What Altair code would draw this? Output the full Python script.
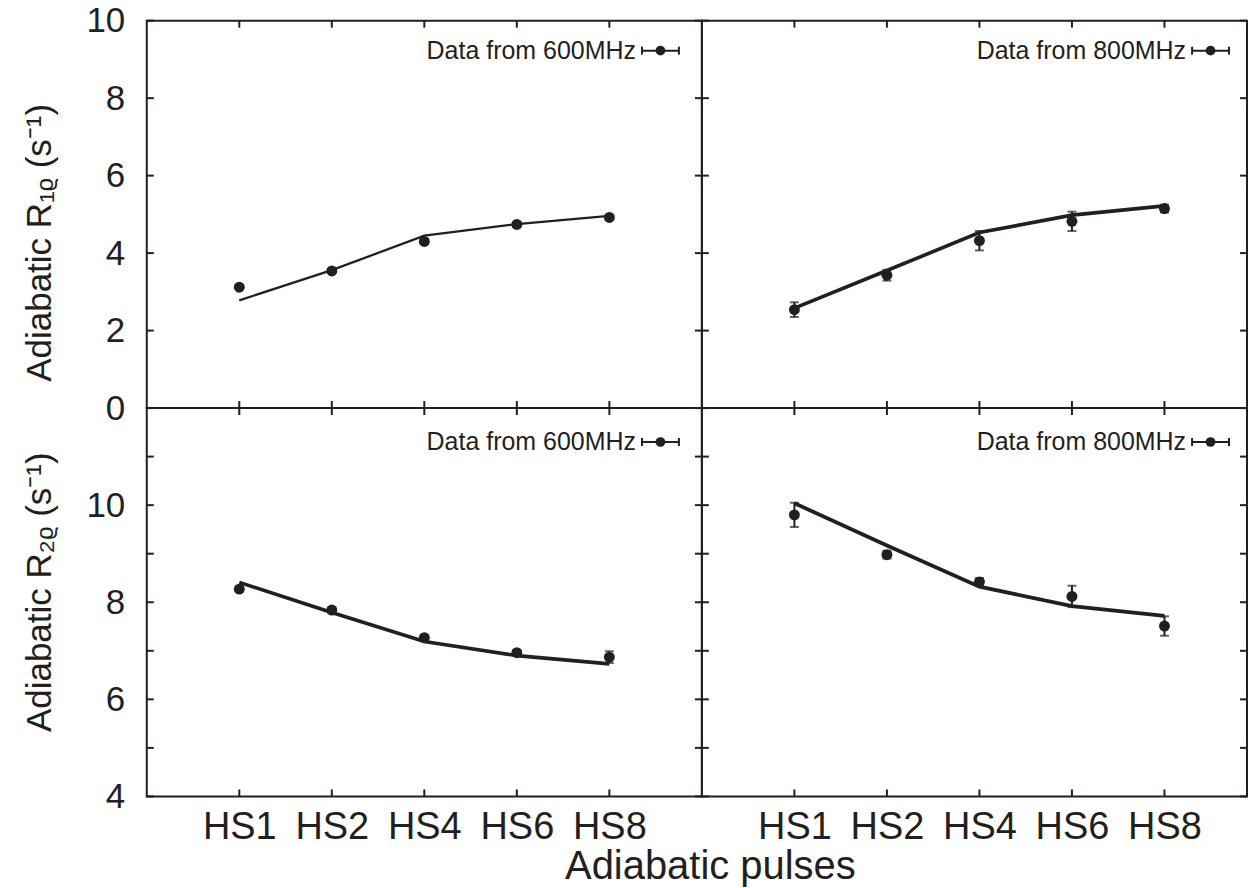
import altair as alt
import pandas as pd

# ---------------- data ----------------
pulses = ["HS1", "HS2", "HS4", "HS6", "HS8"]
positions = [1, 2, 3, 4, 5]

r1_600_pts = [3.12, 3.54, 4.30, 4.74, 4.92]
r1_600_err = [0.05, 0.05, 0.06, 0.05, 0.05]
r1_600_fit = [2.78, 3.56, 4.45, 4.75, 4.96]

r1_800_pts = [2.54, 3.43, 4.32, 4.82, 5.15]
r1_800_err = [0.19, 0.14, 0.25, 0.25, 0.10]
r1_800_fit = [2.58, 3.55, 4.53, 4.98, 5.22]

r2_600_pts = [8.27, 7.84, 7.27, 6.96, 6.87]
r2_600_err = [0.05, 0.05, 0.05, 0.05, 0.12]
r2_600_fit = [8.41, 7.79, 7.19, 6.90, 6.73]

r2_800_pts = [9.80, 8.98, 8.42, 8.12, 7.51]
r2_800_err = [0.25, 0.08, 0.08, 0.22, 0.20]
r2_800_fit = [10.04, 9.17, 8.32, 7.92, 7.72]

legend_labels = ["Data from 600MHz", "Data from 800MHz"]
top_ticks = [0, 2, 4, 6, 8, 10]
bottom_ticks = [4, 5, 6, 7, 8, 9, 10, 11, 12]
top_labels = [0, 2, 4, 6, 8, 10]
bottom_labels = [4, 6, 8, 10]

y1_title = "Adiabatic R\u2081\u1d68 (s\u207b\u00b9)"
y2_title = "Adiabatic R\u2082\u1d68 (s\u207b\u00b9)"
x_title = "Adiabatic pulses"

INK = "#231f20"
FONT = "Liberation Sans"

LW, RW = 556, 546
TH, BH = 388, 389
TICK = 7

label_expr = "[" + ",".join("'%s'" % p for p in pulses) + "][datum.value - 1]"


def panel(pts, err, fit, ydom, yticks, ylabels, W, H, xmax, legend_text,
          show_y, ytitle, title_y, show_x, xtitle, leg_x, leg_y, line_w):
    df = pd.DataFrame({
        "pos": positions,
        "pulse": pulses,
        "val": pts,
        "lo": [v - e for v, e in zip(pts, err)],
        "hi": [v + e for v, e in zip(pts, err)],
        "fit": fit,
    })
    xscale = alt.Scale(domain=[0, xmax], nice=False, zero=False)
    yscale = alt.Scale(domain=ydom, nice=False, zero=False)

    if show_x:
        xaxis = alt.Axis(values=positions, labelExpr=label_expr, ticks=False, tickSize=0,
                         domain=False, grid=False, labelFontSize=38, labelPadding=12,
                         labelFont=FONT, labelColor=INK, title=xtitle,
                         titleFontSize=40, titleFont=FONT, titleColor=INK,
                         titleFontWeight="normal", titlePadding=0,
                         titleX=(711 - 147) if xtitle else 0)
    else:
        xaxis = None
    if show_y:
        yaxis = alt.Axis(values=ylabels, ticks=False, tickSize=0, domain=False, grid=False,
                         labelFontSize=35, labelPadding=22, labelFont=FONT, labelColor=INK,
                         title=ytitle, titleFontSize=35, titleFont=FONT, titleColor=INK,
                         titleFontWeight="normal", titlePadding=28, titleY=title_y)
    else:
        yaxis = None

    def X(field):
        return alt.X(field, type="quantitative", scale=xscale, axis=xaxis, title=xtitle if show_x else "")

    def Y(field):
        return alt.Y(field, type="quantitative", scale=yscale, axis=yaxis, title=ytitle if show_y else "")

    base = alt.Chart(df)
    line = base.mark_line(color=INK, strokeWidth=line_w).encode(x=X("pos"), y=Y("fit"))
    bars = base.mark_rule(color=INK, strokeWidth=2).encode(x=X("pos"), y=Y("lo"), y2="hi")
    cap_lo = base.mark_tick(color=INK, orient="horizontal", size=9, thickness=2).encode(x=X("pos"), y=Y("lo"))
    cap_hi = base.mark_tick(color=INK, orient="horizontal", size=9, thickness=2).encode(x=X("pos"), y=Y("hi"))
    pts_l = base.mark_point(filled=True, color=INK, opacity=1, size=120).encode(x=X("pos"), y=Y("val"))

    xt = alt.Chart(pd.DataFrame({"pos": positions}))
    xt_bot = xt.mark_rule(color=INK, strokeWidth=2).encode(x=X("pos"), y=alt.value(H - TICK), y2=alt.value(H))
    xt_top = xt.mark_rule(color=INK, strokeWidth=2).encode(x=X("pos"), y=alt.value(0), y2=alt.value(TICK))
    yt = alt.Chart(pd.DataFrame({"val": yticks}))
    yt_l = yt.mark_rule(color=INK, strokeWidth=2).encode(y=Y("val"), x=alt.value(0), x2=alt.value(TICK))
    yt_r = yt.mark_rule(color=INK, strokeWidth=2).encode(y=Y("val"), x=alt.value(W - TICK), x2=alt.value(W))

    lg = alt.Chart(pd.DataFrame({"t": [legend_text]}))
    lg_text = lg.mark_text(align="right", baseline="middle", fontSize=25, font=FONT, color=INK).encode(
        text="t:N", x=alt.value(leg_x), y=alt.value(leg_y))
    lg_rule = lg.mark_rule(color=INK, strokeWidth=2).encode(
        x=alt.value(leg_x + 6), x2=alt.value(leg_x + 43), y=alt.value(leg_y))
    lg_c1 = lg.mark_rule(color=INK, strokeWidth=2).encode(
        x=alt.value(leg_x + 6), y=alt.value(leg_y - 4), y2=alt.value(leg_y + 4))
    lg_c2 = lg.mark_rule(color=INK, strokeWidth=2).encode(
        x=alt.value(leg_x + 43), y=alt.value(leg_y - 4), y2=alt.value(leg_y + 4))
    lg_pt = lg.mark_point(filled=True, color=INK, opacity=1, size=95).encode(
        x=alt.value(leg_x + 24.5), y=alt.value(leg_y))

    return alt.layer(line, bars, cap_lo, cap_hi, pts_l, xt_bot, xt_top, yt_l, yt_r,
                     lg_text, lg_rule, lg_c1, lg_c2, lg_pt).properties(width=W, height=H)


xmax_r = 6 * RW / LW

tl = panel(r1_600_pts, r1_600_err, r1_600_fit, [0, 10], top_ticks, top_labels, LW, TH, 6,
           legend_labels[0], True, y1_title, 222, False, "", 490, 30, 2.3)
tr = panel(r1_800_pts, r1_800_err, r1_800_fit, [0, 10], top_ticks, top_labels, RW, TH, xmax_r,
           legend_labels[1], False, "", 0, False, "", 485, 30, 3.6)
bl = panel(r2_600_pts, r2_600_err, r2_600_fit, [4, 12], bottom_ticks, bottom_labels, LW, BH, 6,
           legend_labels[0], True, y2_title, 184, True, x_title, 490, 34, 3.6)
br = panel(r2_800_pts, r2_800_err, r2_800_fit, [4, 12], bottom_ticks, bottom_labels, RW, BH, xmax_r,
           legend_labels[1], False, "", 0, True, "", 485, 34, 3.8)

chart = alt.concat(tl, tr, bl, br, columns=2, spacing=0, bounds="flush").properties(
    padding={"left": 22, "top": 2, "right": 0, "bottom": 0}
).configure(background="white", view=alt.ViewConfig(stroke=INK, strokeWidth=2))

chart.save("out.html", embed_options={"renderer": "svg", "actions": False})
